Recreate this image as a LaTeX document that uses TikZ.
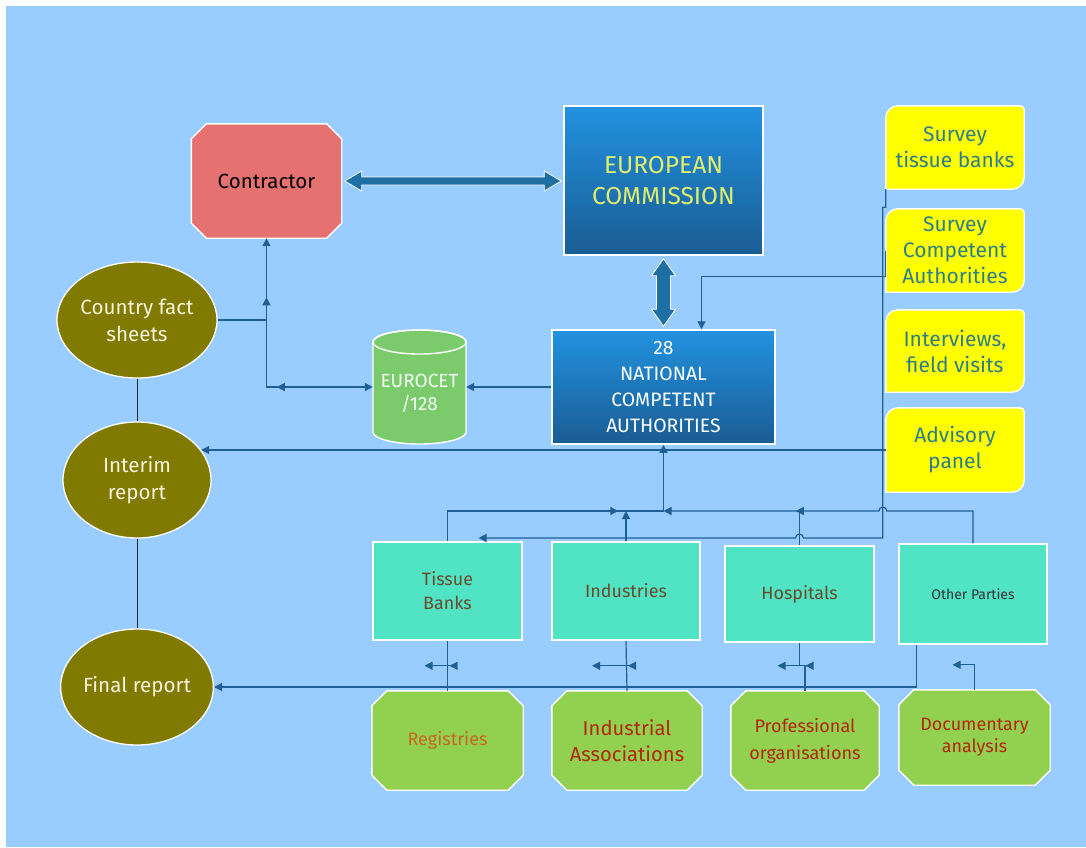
\documentclass[tikz,border=0pt]{standalone}
\usepackage{fontspec}
\setmainfont{Fira Sans}
\usetikzlibrary{arrows.meta,decorations.markings,calc,backgrounds,shapes.geometric}

\definecolor{bgblue}{HTML}{99CCFF}
\definecolor{lnblue}{HTML}{1F5F96}
\definecolor{contr}{HTML}{E57171}
\definecolor{ectop}{HTML}{2292E0}
\definecolor{ecbot}{HTML}{1A5C93}
\definecolor{ectext}{HTML}{E2EE6A}
\definecolor{cyl}{HTML}{7BCB6D}
\definecolor{olivec}{HTML}{807A00}
\definecolor{cream}{HTML}{F7F3DC}
\definecolor{turq}{HTML}{50E3C4}
\definecolor{turqtext}{HTML}{6A4B2C}
\definecolor{lgreen}{HTML}{92D050}
\definecolor{regtext}{HTML}{C8661E}
\definecolor{redtext}{HTML}{B3260A}
\definecolor{ylw}{HTML}{FFFF00}
\definecolor{ytext}{HTML}{2E7D8A}
\definecolor{blockarrow}{HTML}{1E6FA3}

\newcommand{\octoshape}[2]{%
  \filldraw[fill=#2,draw=white,line width=1.4pt]
    ($(#1.north west)+(15,0)$) -- ($(#1.north east)+(-15,0)$) --
    ($(#1.north east)+(0,15)$) -- ($(#1.south east)+(0,-15)$) --
    ($(#1.south east)+(-15,0)$) -- ($(#1.south west)+(15,0)$) --
    ($(#1.south west)+(0,-15)$) -- ($(#1.north west)+(0,15)$) -- cycle;}
\newcommand{\yshape}[1]{%
  \filldraw[fill=ylw,draw=white,line width=1.4pt]
    (#1.south west) -- ($(#1.north west)+(0,12)$)
    arc[start angle=180,end angle=90,radius=12pt]
    -- ($(#1.north east)+(-4,0)$)
    arc[start angle=90,end angle=0,radius=4pt]
    -- ($(#1.south east)+(0,-12)$)
    arc[start angle=0,end angle=-90,radius=12pt]
    -- cycle;}

\begin{document}
\begin{tikzpicture}[x=1pt,y=-1pt,
  every node/.style={align=center, inner sep=0pt},
  box/.style 2 args={minimum width=#1pt, minimum height=#2pt},
  lnk/.style={color=lnblue, line width=1.2pt, >={Triangle[length=8pt,width=8pt]}},
  tipat/.style={postaction={decorate,decoration={markings,
      mark=at position #1 with {\arrow{Triangle[length=8pt,width=8pt]}}}}},
  ecbox/.style={rectangle, draw=white, line width=1.5pt, top color=ectop, bottom color=ecbot},
  oval/.style={ellipse, minimum width=148pt, minimum height=116pt, fill=olivec,
      draw=white, line width=1.3pt, text=cream, font=\fontsize{20.6}{27}\selectfont},
  turqbox/.style={rectangle, fill=turq, draw=white, line width=1.5pt,
      text=turqtext, font=\fontsize{17.9}{24}\selectfont},
  ytxt/.style={text=ytext, font=\fontsize{21}{26}\selectfont},
  gtxt/.style={text=redtext, font=\fontsize{18.1}{27}\selectfont},
  reflink/.style={black!85, line width=1pt}]
\useasboundingbox (0,0) rectangle (1086,847);

% nodes
\node[box={150}{114}, text=black, font=\fontsize{20.5}{22}\selectfont] (contractor) at (266.5,181) {Contractor};
\node[ecbox, box={199}{149}, text=ectext, font=\fontsize{24.5}{31}\selectfont] (ec) at (663.5,180.5) {EUROPEAN\\COMMISSION};
\node[ecbox, box={223}{114}, text=white, font=\fontsize{19.4}{26}\selectfont] (nca) at (663.5,387) {28\\NATIONAL\\COMPETENT\\AUTHORITIES};
\node[box={93}{50}, text=white!95!green, font=\fontsize{19}{23}\selectfont] (euro) at (419.5,393) {EUROCET\\/128};

\node[oval] (cfs) at (137,320) {Country fact\\sheets};
\node[oval] (interim) at (137,480) {Interim\\report};
\node[oval] (final) at (137,687) {Final report};

\node[box={138}{83}, ytxt] (stb) at (955,147.5) {Survey\\tissue banks};
\node[box={138}{83}, ytxt] (sca) at (955,250.5) {Survey\\Competent\\Authorities};
\node[box={138}{82}, ytxt] (ifv) at (955,351) {Interviews,\\field visits};
\node[box={138}{84}, ytxt] (adv) at (955,450) {Advisory\\panel};

\node[turqbox, box={149}{98}] (tb) at (447.5,591) {Tissue\\Banks};
\node[turqbox, box={148}{98}] (ind) at (626,591) {Industries};
\node[turqbox, box={149}{96}] (hosp) at (799.5,594) {Hospitals};
\node[turqbox, box={148}{100}, text=black!80, font=\fontsize{14}{17}\selectfont] (op) at (973,594) {Other Parties};

\node[box={151}{99}, text=regtext, font=\fontsize{18}{22}\selectfont] (reg) at (447.5,740.5) {Registries};
\node[box={150}{99}, gtxt, font=\fontsize{20.2}{26}\selectfont] (ia) at (627,740.5) {Industrial\\Associations};
\node[box={148}{99}, gtxt] (po) at (805,740.5) {Professional\\organisations};
\node[box={151}{95}, gtxt, font=\fontsize{17.9}{22}\selectfont] (da) at (974.5,737.5) {Documentary\\analysis};

% background shapes
\begin{pgfonlayer}{background}
  \fill[white] (0,0) rectangle (1086,847);
  \fill[bgblue] (6,6) rectangle (1086,847);
  \octoshape{contractor}{contr}
  \foreach \n in {reg,ia,po,da} {\octoshape{\n}{lgreen}}
  \foreach \n in {stb,sca,ifv,adv} {\yshape{\n}}
  \filldraw[fill=cyl,draw=white,line width=1.4pt]
    (373,342) -- (373,432) arc[start angle=180,end angle=360,x radius=46.5pt,y radius=12pt]
    -- (466,342) arc[start angle=0,end angle=180,x radius=46.5pt,y radius=12pt] -- cycle;
  \draw[white,line width=1.4pt] (419.5,342) ellipse[x radius=46.5pt,y radius=12pt];
\end{pgfonlayer}

% block arrows
\coordinate (h1) at ($(contractor.east)+(3,0)$);
\coordinate (h2) at ($(ec.west |- contractor.east)+(-2,0)$);
\filldraw[fill=blockarrow, draw=white, line width=0.8pt]
  (h1) -- ($(h1)+(17,-10)$) -- ($(h1)+(17,-4)$) -- ($(h2)+(-17,-4)$) -- ($(h2)+(-17,-10)$)
  -- (h2) -- ($(h2)+(-17,10)$) -- ($(h2)+(-17,4)$) -- ($(h1)+(17,4)$) -- ($(h1)+(17,10)$) -- cycle;
\coordinate (v1) at ($(ec.south)+(0,3)$);
\coordinate (v2) at ($(nca.north)+(0,-3)$);
\filldraw[fill=blockarrow, draw=white, line width=0.8pt]
  (v1) -- ($(v1)+(-12,17)$) -- ($(v1)+(-7,17)$) -- ($(v2)+(-7,-17)$) -- ($(v2)+(-12,-17)$)
  -- (v2) -- ($(v2)+(12,-17)$) -- ($(v2)+(7,-17)$) -- ($(v1)+(7,17)$) -- ($(v1)+(12,17)$) -- cycle;

% helper coordinates
\coordinate (busy) at (0,511);
\coordinate (lowy) at (0,538);
\coordinate (vtop) at ($(stb.south west)+(-3,18)$);

% connectors
\draw[lnk,<->,tipat=96pt,tipat=196pt] (euro.west |- nca.west) -| (contractor.south);
\draw[lnk] (cfs.east) -- (cfs.east -| contractor.south);
\draw[lnk,->] (nca.west) -- (nca.west -| euro.east);
\draw[lnk,->] (sca.west) -- ++(0,26) -| ($(nca.north)+(38,0)$);
\draw[lnk,->] (stb.south west) -- (vtop -| stb.south west) -- (vtop) -- (vtop |- lowy)
  -- ($(hosp.north |- lowy)+(4,0)$) arc[start angle=0,end angle=180,radius=4pt]
  -- ($(tb.north |- lowy)+(31,0)$);
\draw[lnk,->] (adv.west) -- (interim.25 |- adv.west);

\draw[lnk,tipat=201pt] (tb.north) |- (nca.south |- busy);
\draw[lnk,->] (nca.south |- busy) -- (nca.south);
\draw[lnk,->] (ind.north) -- (ind.north |- busy);
\draw[lnk] (hosp.north) -- (hosp.north |- busy);
\draw[lnk,->,tipat=214pt] (op.north) -- (op.north |- busy)
  -- ($(vtop |- busy)+(4,0)$) arc[start angle=0,end angle=180,radius=4pt]
  -- (nca.south |- busy);

\draw[lnk] (tb.south) -- (reg.north);
\draw[lnk] (ind.south) -- (ia.north);
\draw[lnk] (hosp.south) -- ++(0,23) -| (po.north);
\draw[lnk,->] ($(op.south west)+(18,0)$) |- (final.east);
\draw[lnk,->] (da.north) -- ++(0,-25) -- ++(-22,0);

\coordinate (s1a) at ($(tb.south)+(8,25)$);
\coordinate (s1b) at ($(tb.south)+(-23,25)$);
\draw[lnk,->,tipat=6pt] (s1a) -- (s1b);
\coordinate (s2a) at ($(ind.south)+(8,25)$);
\coordinate (s2b) at ($(ind.south)+(-34,25)$);
\draw[lnk,->,tipat=6pt] (s2a) -- (s2b);
\coordinate (s3a) at ($(hosp.south)+(12,23)$);
\coordinate (s3b) at ($(hosp.south)+(-22,23)$);
\draw[lnk,->,tipat=6pt] (s3a) -- (s3b);

\draw[reflink] (cfs.south) -- (interim.north);
\draw[reflink] (interim.south) -- (final.north);
\end{tikzpicture}
\end{document}
